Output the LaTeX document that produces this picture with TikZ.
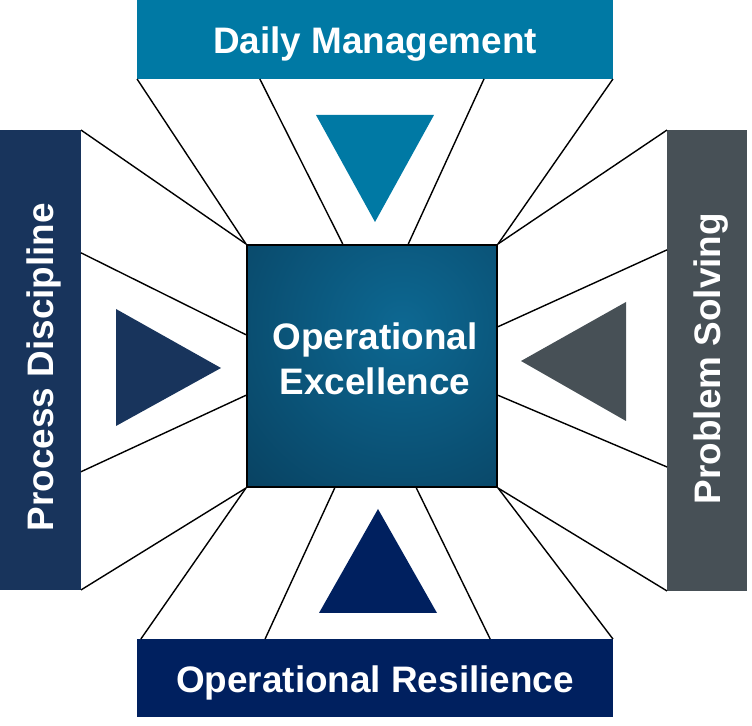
\documentclass[tikz,border=0pt]{standalone}
\usepackage{fontspec}
\setmainfont{Liberation Sans}
\usetikzlibrary{calc}
\definecolor{dmblue}{HTML}{0079A4}
\definecolor{pdblue}{HTML}{18345C}
\definecolor{psgray}{HTML}{475056}
\definecolor{orblue}{HTML}{00205F}
\definecolor{oelight}{HTML}{0D6892}
\definecolor{oedark}{HTML}{031427}
\tikzset{
  bar/.style={inner sep=0,outer sep=0,rectangle},
  wire/.style={draw=black,line width=0.8pt},
  lbl/.style={text=white,font=\bfseries\fontsize{21}{25}\selectfont,inner sep=0,anchor=base}
}
\begin{document}
\begin{tikzpicture}[x=0.02cm,y=-0.02cm]
\useasboundingbox (0,0) rectangle (752,726);
\node[bar,fill=dmblue,minimum width=9.52cm,minimum height=1.58cm](DM)at(375,39.5){};
\node[bar,fill=pdblue,minimum width=1.62cm,minimum height=9.2cm](PD)at(40.5,360){};
\node[bar,fill=psgray,minimum width=1.6cm,minimum height=9.22cm](PS)at(707,360.5){};
\node[bar,fill=orblue,minimum width=9.52cm,minimum height=1.56cm](OR)at(375,678){};
\node[lbl](DMt)at(375,54){Daily Management};
\node[lbl,rotate=90](PDt)at(53,367){Process Discipline};
\node[lbl,rotate=90](PSt)at(720,358.5){Problem Solving};
\node[lbl](ORt)at(375,693){Operational Resilience};
% pointers
\fill[dmblue](316,115)--(434,115)--(375,222)--cycle;
\fill[pdblue](116,309)--(116,426)--(221,368)--cycle;
\fill[psgray](626,302)--(626,421)--(521,361)--cycle;
\fill[orblue](378,509)--(437,613)--(319,613)--cycle;
% centre
\node[draw=black,line width=1.2pt,minimum width=5cm,minimum height=4.84cm,inner sep=0,
  path picture={\fill[oedark](path picture bounding box.south west)rectangle(path picture bounding box.north east);
  \shade[inner color=oelight,outer color=oedark]([xshift=0.6cm,yshift=0.8cm]path picture bounding box.center)circle(10cm);}](OE)at(372,366){};
\node[lbl](OEa)at(375,350){Operational};
\node[lbl](OEb)at(375,395){Excellence};
% top
\draw[wire](DM.south west)--(OE.north west);
\draw[wire]($(DM.south west)!.258!(DM.south east)$)--($(OE.north west)!.384!(OE.north east)$);
\draw[wire]($(DM.south west)!.729!(DM.south east)$)--($(OE.north west)!.644!(OE.north east)$);
\draw[wire](DM.south east)--(OE.north east);
% left
\draw[wire](PD.north east)--(OE.north west);
\draw[wire]($(PD.north east)!.267!(PD.south east)$)--($(OE.north west)!.372!(OE.south west)$);
\draw[wire]($(PD.north east)!.743!(PD.south east)$)--($(OE.north west)!.62!(OE.south west)$);
\draw[wire](PD.south east)--(OE.south west);
% right
\draw[wire](PS.north west)--(OE.north east);
\draw[wire]($(PS.north west)!.26!(PS.south west)$)--($(OE.north east)!.339!(OE.south east)$);
\draw[wire]($(PS.north west)!.731!(PS.south west)$)--($(OE.north east)!.62!(OE.south east)$);
\draw[wire](PS.south west)--(OE.south east);
% bottom
\draw[wire]($(OR.north west)!.008!(OR.north east)$)--(OE.south west);
\draw[wire]($(OR.north west)!.269!(OR.north east)$)--($(OE.south west)!.352!(OE.south east)$);
\draw[wire]($(OR.north west)!.742!(OR.north east)$)--($(OE.south west)!.676!(OE.south east)$);
\draw[wire](OR.north east)--(OE.south east);
\end{tikzpicture}
\end{document}
